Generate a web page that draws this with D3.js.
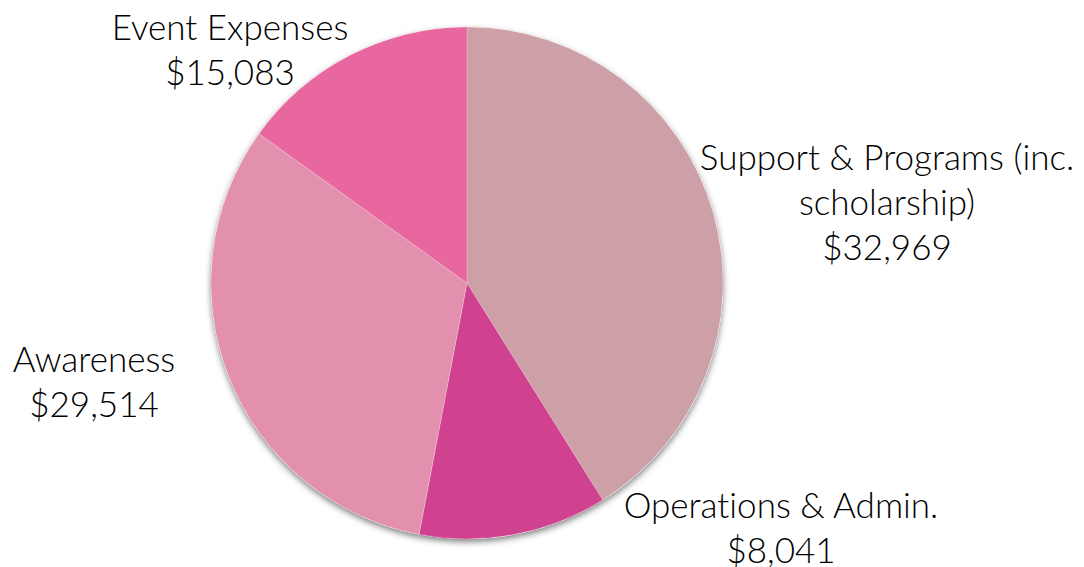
<!DOCTYPE html>
<html lang="en">
<head>
    <meta charset="UTF-8">
    <title>Expenses</title>
    <script src="https://d3js.org/d3.v7.min.js"></script>
    <style>
        html, body {
            margin: 0;
            padding: 0;
            background-color: #ffffff;
        }
        svg text {
            font-family: Lato, "Noto Sans", sans-serif;
            font-weight: 300;
            font-variant-ligatures: none;
            fill: #000000;
        }
    </style>
</head>
<body>
    <svg id="chart" width="1084" height="567"></svg>
    <script>
        // categories, clockwise from 12 o'clock
        const categories = ['Support & Programs', 'Operations & Admin.', 'Awareness', 'Event Expenses'];
        // label lines shown next to each slice
        const labelLines = [
            ['Support & Programs (inc.', 'scholarship)'],
            ['Operations & Admin.'],
            ['Awareness'],
            ['Event Expenses']
        ];
        const amounts = [32969, 8041, 29514, 15083];
        // slice shares (%) as drawn in the picture
        const shares = [41.1, 11.9, 31.9, 15.1];
        const colors = ['#cd9fa7', '#d04290', '#e290ae', '#e8679f'];

        const cx = 467, cy = 283, radius = 256;
        const svg = d3.select('#chart');

        const defs = svg.append('defs');
        const shadow = defs.append('filter')
            .attr('id', 'shadow')
            .attr('x', '-10%').attr('y', '-10%')
            .attr('width', '120%').attr('height', '120%');
        shadow.append('feDropShadow')
            .attr('dx', 0).attr('dy', 3)
            .attr('stdDeviation', 3)
            .attr('flood-color', '#000')
            .attr('flood-opacity', 0.5);

        const data = categories.map((c, i) => ({
            name: c, lines: labelLines[i], amount: amounts[i], share: shares[i], color: colors[i]
        }));

        const pie = d3.pie().sort(null).value(d => d.share);
        const arc = d3.arc().innerRadius(0).outerRadius(radius);
        const arcs = pie(data);

        const g = svg.append('g').attr('transform', `translate(${cx},${cy})`);

        g.append('circle')
            .attr('r', radius)
            .attr('fill', '#ffffff')
            .attr('filter', 'url(#shadow)');

        g.selectAll('path')
            .data(arcs)
            .join('path')
            .attr('d', arc)
            .attr('fill', d => d.data.color)
            .attr('stroke', '#ffffff')
            .attr('stroke-opacity', 0.35)
            .attr('stroke-width', 0.6);

        // label anchor points (text centre x, first baseline y)
        const labelPos = [
            [887, 170],
            [781, 518],
            [94, 372],
            [230, 40]
        ];
        const fmt = d3.format('$,');
        const lineH = 45;

        data.forEach((d, i) => {
            const t = svg.append('text')
                .attr('x', labelPos[i][0])
                .attr('y', labelPos[i][1])
                .attr('text-anchor', 'middle')
                .attr('font-size', 35);
            const lines = d.lines.concat([fmt(d.amount)]);
            lines.forEach((ln, j) => {
                t.append('tspan')
                    .attr('x', labelPos[i][0])
                    .attr('dy', j === 0 ? 0 : lineH)
                    .text(ln);
            });
        });
    </script>
</body>
</html>
